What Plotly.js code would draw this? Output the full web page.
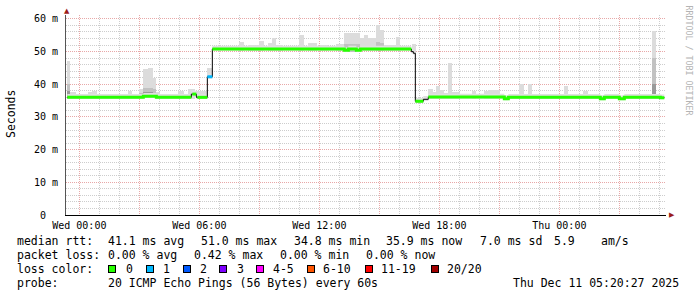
<!DOCTYPE html>
<html><head><meta charset="utf-8">
<script src="https://cdn.plot.ly/plotly-3.0.1.min.js"></script>
<style>html,body{margin:0;padding:0;background:#fff;}#chart{width:697px;height:297px;}</style>
</head><body><div id="chart"></div>
<script>
// ---------- DATA ----------
// median rtt steps (ms); loss = lost pings in that step (null = fractional, drawn black only)
const medianStart = ['2025-12-09 23:24','2025-12-10 03:12','2025-12-10 03:51','2025-12-10 05:36','2025-12-10 05:39',
  '2025-12-10 05:51','2025-12-10 05:54','2025-12-10 06:24','2025-12-10 06:39','2025-12-10 13:15','2025-12-10 13:27',
  '2025-12-10 13:51','2025-12-10 14:03','2025-12-10 16:36','2025-12-10 16:42','2025-12-10 16:48','2025-12-10 17:12',
  '2025-12-10 17:27','2025-12-10 21:15','2025-12-10 21:27','2025-12-11 02:03','2025-12-11 02:15','2025-12-11 03:00',
  '2025-12-11 03:15','2025-12-11 05:03'];
const medianValue = [36.0,36.3,36.0,37.0,37.0,36.0,36.0,42.3,50.8,50.4,50.8,50.4,50.8,50.0,49.5,34.8,35.4,
  36.1,35.6,36.0,35.6,36.0,35.6,36.0,35.9];
const medianLoss  = [0,0,0,null,0,null,0,1,0,0,0,0,0,null,null,0,null,0,0,0,0,0,0,0,0];
const medianEnd = '2025-12-11 05:15';

// smoke (ping spread) above the median
const smokeSpread = 1.0;
const smokeStart = ['2025-12-09 23:24','2025-12-09 23:33','2025-12-10 00:27','2025-12-10 00:39','2025-12-10 02:27',
  '2025-12-10 03:00','2025-12-10 03:12','2025-12-10 03:27','2025-12-10 03:42','2025-12-10 03:51','2025-12-10 04:57',
  '2025-12-10 05:27','2025-12-10 05:48','2025-12-10 06:24','2025-12-10 08:00','2025-12-10 08:27','2025-12-10 09:00',
  '2025-12-10 09:27','2025-12-10 09:39','2025-12-10 09:51','2025-12-10 11:00','2025-12-10 11:27','2025-12-10 12:03',
  '2025-12-10 12:51','2025-12-10 13:15','2025-12-10 14:03','2025-12-10 14:15','2025-12-10 14:27','2025-12-10 14:51',
  '2025-12-10 15:03','2025-12-10 15:15','2025-12-10 15:51','2025-12-10 16:39','2025-12-10 17:27','2025-12-10 17:42',
  '2025-12-10 17:51','2025-12-10 18:03','2025-12-10 18:15','2025-12-10 18:27','2025-12-10 18:39','2025-12-10 19:39',
  '2025-12-10 20:15','2025-12-10 20:27','2025-12-10 22:00','2025-12-10 22:27','2025-12-11 00:15','2025-12-11 01:12',
  '2025-12-11 04:39'];
const smokeEnd = ['2025-12-09 23:33','2025-12-09 23:51','2025-12-10 00:39','2025-12-10 00:54','2025-12-10 02:39',
  '2025-12-10 03:12','2025-12-10 03:27','2025-12-10 03:42','2025-12-10 03:51','2025-12-10 04:03','2025-12-10 05:15',
  '2025-12-10 05:48','2025-12-10 06:24','2025-12-10 06:39','2025-12-10 08:15','2025-12-10 09:00','2025-12-10 09:15',
  '2025-12-10 09:39','2025-12-10 09:51','2025-12-10 10:12','2025-12-10 11:15','2025-12-10 11:54','2025-12-10 12:27',
  '2025-12-10 13:15','2025-12-10 14:03','2025-12-10 14:15','2025-12-10 14:27','2025-12-10 14:51','2025-12-10 15:03',
  '2025-12-10 15:15','2025-12-10 15:51','2025-12-10 16:03','2025-12-10 16:51','2025-12-10 17:42','2025-12-10 17:51',
  '2025-12-10 18:03','2025-12-10 18:15','2025-12-10 18:27','2025-12-10 18:39','2025-12-10 19:03','2025-12-10 19:51',
  '2025-12-10 20:27','2025-12-10 21:03','2025-12-10 22:15','2025-12-10 22:39','2025-12-11 00:27','2025-12-11 01:27',
  '2025-12-11 04:51'];
const smokeHigh = [47.1,37.5,37.5,38.0,38.0,38.5,44.6,45.1,41.8,37.6,38.0,38.5,38.0,45.0,53.0,52.0,53.3,52.7,54.3,52.1,
  55.1,52.7,52.0,52.2,55.8,54.1,55.1,54.1,58.2,56.6,52.0,54.6,52.3,38.7,37.6,39.5,38.3,37.3,46.6,37.6,38.0,37.8,38.3,
  40.0,40.0,39.6,37.8,56.3];
const smokeMid  = [40.0,0,0,0,0,37.3,39.0,39.0,38.5,0,0,0,0,0,0,0,0,0,0,0,0,0,0,0,52.3,0,0,0,53.0,52.5,0,0,0,0,0,0,0,0,
  0,0,0,0,0,0,0,0,0,48.0];
const smokeCore = [38.0,0,0,0,0,0,37.5,37.5,0,0,0,0,0,0,0,0,0,0,0,0,0,0,0,0,0,0,0,0,0,0,0,0,0,0,0,0,0,0,0,0,0,0,0,
  0,0,0,0,40.0];

// axes
const xRange = ['2025-12-09 23:20','2025-12-11 05:20'];
const xTickVals = ['2025-12-10 00:00','2025-12-10 03:00','2025-12-10 06:00','2025-12-10 09:00','2025-12-10 12:00',
  '2025-12-10 15:00','2025-12-10 18:00','2025-12-10 21:00','2025-12-11 00:00','2025-12-11 03:00'];
const xTickText = ['Wed 00:00','','Wed 06:00','','Wed 12:00','','Wed 18:00','','Thu 00:00',''];
const yTickVals = [0,10,20,30,40,50,60];
const yTickText = ['0\u00a0\u00a0','10 m','20 m','30 m','40 m','50 m','60 m'];
const yMax = 61.2;

// legend texts
const rttTexts  = ['median rtt:','41.1 ms avg','51.0 ms max','34.8 ms min','35.9 ms now','7.0 ms sd','5.9','am/s'];
const lossTexts = ['packet loss:','0.00 % avg','0.42 % max','0.00 % min','0.00 % now'];
const lossColorTitle = 'loss color:';
const lossLabels = ['0','1','2','3','4-5','6-10','11-19','20/20'];
const lossColors = ['#26ff00','#00b8ff','#0059ff','#7e00ff','#ff00ff','#ff5500','#ff0000','#a10000'];
const probeTexts = ['probe:','20 ICMP Echo Pings (56 Bytes) every 60s'];
const dateText = 'Thu Dec 11 05:20:27 2025';
const creditText = 'RRDTOOL / TOBI OETIKER';
const yTitle = 'Seconds';

// ---------- LAYOUT GEOMETRY ----------
const W = 697, H = 297, L = 66, R = 31, T = 15, B = 82;
const PW = W - L - R, PH = H - T - B;
const px = v => (v - L) / PW;
const py = v => (T + PH - v) / PH;
const MONO = 'DejaVu Sans Mono, monospace';

const toMs = s => Date.parse(s.replace(' ', 'T') + ':00Z');
const medAt = ms => { let v = medianValue[0]; for (let i = 0; i < medianStart.length; i++) { if (toMs(medianStart[i]) <= ms) v = medianValue[i]; } return v; };

const traces = [];
const bx = medianStart.concat([medianEnd]);
const lastV = medianValue[medianValue.length-1];
const lowY = medianValue.map(v => v - 0.5).concat([lastV - 0.5]);
const upY = medianValue.map(v => v + smokeSpread).concat([lastV + smokeSpread]);
traces.push({type:'scatter', mode:'lines', x:bx, y:lowY, line:{shape:'hv', width:0, color:'rgba(0,0,0,0)'}, hoverinfo:'skip'});
traces.push({type:'scatter', mode:'lines', x:bx, y:upY, line:{shape:'hv', width:0, color:'rgba(0,0,0,0)'}, fill:'tonexty', fillcolor:'#e0e0e0', hoverinfo:'skip'});

function smokeLayer(tops, color) {
  const xs = [], ys = [], bs = [], ws = [];
  for (let i = 0; i < smokeStart.length; i++) {
    if (!tops[i]) continue;
    const s = toMs(smokeStart[i]), e = toMs(smokeEnd[i]);
    const base = medAt(s) - 0.5;
    xs.push(smokeStart[i]); ys.push(tops[i] - base); bs.push(base); ws.push(e - s);
  }
  return {type:'bar', x:xs, y:ys, base:bs, width:ws, offset:0, marker:{color:color, line:{width:0}}, hoverinfo:'skip'};
}
traces.push(smokeLayer(smokeHigh, '#dcdcdc'));
traces.push(smokeLayer(smokeMid, '#c2c2c2'));
traces.push(smokeLayer(smokeCore, '#9a9a9a'));

traces.push({type:'scatter', mode:'lines', x:bx, y:medianValue.concat([lastV]),
  line:{shape:'hv', width:1, color:'#000000'}, hoverinfo:'skip'});

function lossLine(lossVal, color) {
  const xs = [], ys = [];
  for (let i = 0; i < medianStart.length; i++) {
    if (medianLoss[i] !== lossVal) continue;
    xs.push(medianStart[i]); ys.push(medianValue[i]);
    const next = i + 1 < medianStart.length ? medianStart[i+1] : medianEnd;
    if (i + 1 >= medianStart.length || medianLoss[i+1] !== lossVal) {
      xs.push(next); ys.push(medianValue[i]); xs.push(null); ys.push(null);
    }
  }
  return {type:'scatter', mode:'lines', x:xs, y:ys, connectgaps:false, line:{shape:'hv', width:3, color:color}, hoverinfo:'skip'};
}
traces.push(lossLine(0, lossColors[0]));
traces.push(lossLine(1, lossColors[1]));

// minor grid positions (every hour / every 2 ms, skipping the major lines)
const xMinor = [], yMinor = [];
for (let h = -1; h <= 29; h++) { if (((h % 3) + 3) % 3 !== 0) xMinor.push(toMs('2025-12-10 00:00') + h * 3600000); }
for (let v = 2; v <= 60; v += 2) { if (v % 10 !== 0) yMinor.push(v); }

// ---------- annotations ----------
const ann = [];
function txt(t, x, y, opts) {
  ann.push(Object.assign({xref:'paper', yref:'paper', x:px(x), y:py(y), xanchor:'left', yanchor:'middle', text:t,
    showarrow:false, borderpad:0, font:{family:MONO, size:11.5, color:'#000'}}, opts || {}));
}
const rttX = [16,107.3,200,292.7,385,479.3,553.3,600];
rttTexts.forEach((t,i) => txt(t, rttX[i], 241));
const lossX = [16,107.3,193.3,279.3,365];
lossTexts.forEach((t,i) => txt(t, lossX[i], 255));
txt(lossColorTitle, 16, 269);
const boxX = [108.3,145.7,182.7,219.3,256,307.3,365,430.7];
const lblX = [125,162.3,199.3,236,271.7,322.3,380,445.7];
lossLabels.forEach((t,i) => txt(t, lblX[i], 269));
lossColors.forEach((c,i) => ann.push({xref:'paper', yref:'paper', x:px(boxX[i]), y:py(269), xanchor:'left', yanchor:'middle',
  text:'', width:6, height:6, bgcolor:c, bordercolor:'#000', borderwidth:1, borderpad:0, showarrow:false}));
txt(probeTexts[0], 16, 283);
txt(probeTexts[1], 107.3, 283);
txt(dateText, 680, 283, {xanchor:'right'});
ann.push({xref:'paper', yref:'paper', x:px(11), y:py(114), text:yTitle, textangle:-90, showarrow:false,
  xanchor:'center', yanchor:'middle', font:{family:MONO, size:11.5, color:'#000'}});
ann.push({xref:'paper', yref:'paper', x:px(688.5), y:py(60), text:creditText, textangle:90, showarrow:false,
  xanchor:'center', yanchor:'middle', font:{family:MONO, size:8.3, color:'#b4b4b4'}});
const arrowC = '#9b1c1c';
ann.push({xref:'paper', yref:'paper', x:px(66.5), y:py(11), text:'\u25B2', showarrow:false, xanchor:'center', yanchor:'middle',
  borderpad:0, font:{family:'DejaVu Sans', size:7, color:arrowC}});
ann.push({xref:'paper', yref:'paper', x:px(671.5), y:py(215), text:'\u25B6', showarrow:false, xanchor:'center', yanchor:'middle',
  borderpad:0, font:{family:'DejaVu Sans', size:7, color:arrowC}});

const majorGrid = '#e8a8a8', minorGrid = '#cdcdcd', dots = '1px,1px';
const layout = {
  width:W, height:H, margin:{l:L, r:R, t:T, b:B, pad:0},
  paper_bgcolor:'#ffffff', plot_bgcolor:'#ffffff', showlegend:false, barmode:'overlay', bargap:0,
  font:{family:MONO, size:10, color:'#000'},
  xaxis:{type:'date', range:xRange, tickmode:'array', tickvals:xTickVals, ticktext:xTickText,
    showgrid:true, gridcolor:majorGrid, griddash:dots, gridwidth:1, zeroline:false, showline:true, linecolor:'#000', linewidth:1, ticks:'',
    ticklabelstandoff:1, tickfont:{family:MONO, size:10, color:'#000'}, fixedrange:true,
    minor:{tickmode:'array', tickvals:xMinor, showgrid:true, gridcolor:minorGrid, griddash:dots, gridwidth:1, ticks:''}},
  yaxis:{range:[0,yMax], tickmode:'array', tickvals:yTickVals, ticktext:yTickText,
    showgrid:true, gridcolor:majorGrid, griddash:dots, gridwidth:1, zeroline:false, showline:true, linecolor:'#555', linewidth:1, ticks:'',
    ticklabelstandoff:5, tickfont:{family:MONO, size:10, color:'#000'}, fixedrange:true,
    minor:{tickmode:'array', tickvals:yMinor, showgrid:true, gridcolor:minorGrid, griddash:dots, gridwidth:1, ticks:''}},
  annotations:ann
};
Plotly.newPlot('chart', traces, layout, {staticPlot:true, displayModeBar:false});
</script></body></html>
